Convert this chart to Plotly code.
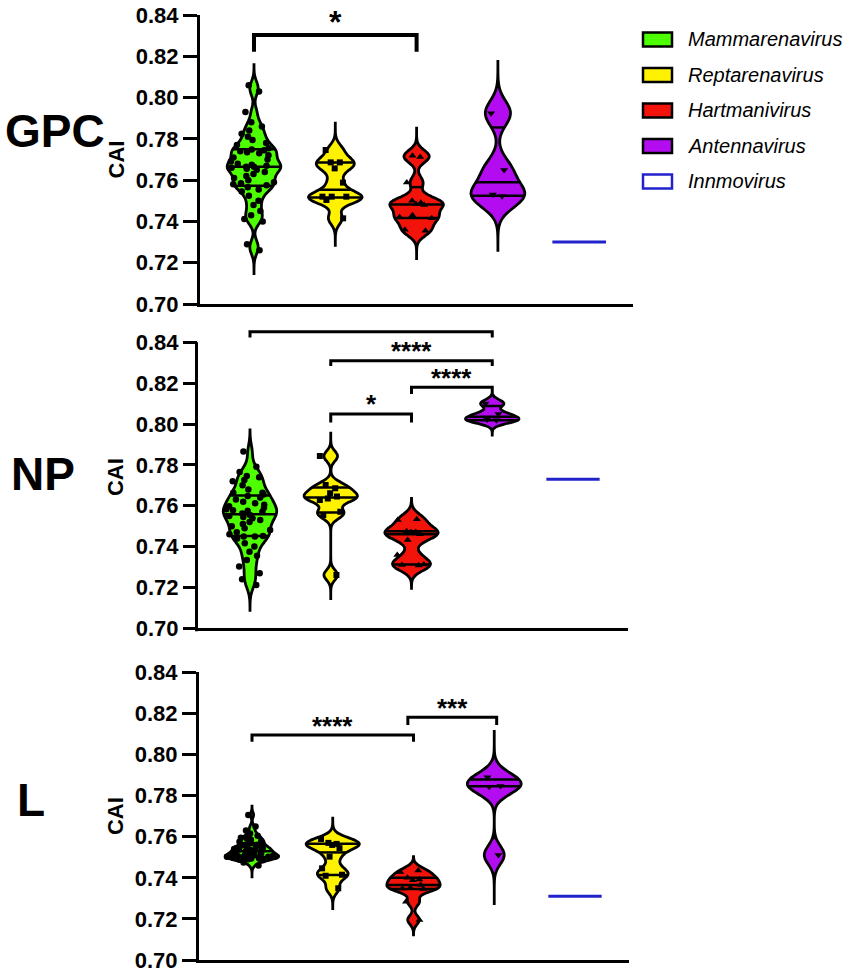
import numpy as np
import plotly.graph_objects as go

# ---------------- data ----------------
GENERA = ["Mammarenavirus", "Reptarenavirus", "Hartmanivirus", "Antennavirus", "Innmovirus"]
POSITIONS = [1, 2, 3, 4, 5]
PANELS = ["GPC", "NP", "L"]
Y_TICKS = [0.70, 0.72, 0.74, 0.76, 0.78, 0.80, 0.82, 0.84]
Y_TICK_LABELS = ["0.70", "0.72", "0.74", "0.76", "0.78", "0.80", "0.82", "0.84"]

GPC_MAMMARENAVIRUS = [0.8060, 0.8030, 0.7930, 0.7880, 0.7860, 0.7840, 0.7825, 0.7810, 0.7795, 0.7780,
                      0.7770, 0.7755, 0.7748, 0.7745, 0.7740, 0.7735, 0.7730, 0.7720, 0.7710, 0.7700,
                      0.7690, 0.7680, 0.7675, 0.7670, 0.7665, 0.7665, 0.7660, 0.7655, 0.7650, 0.7640,
                      0.7630, 0.7620, 0.7610, 0.7600, 0.7590, 0.7585, 0.7580, 0.7575, 0.7565, 0.7555,
                      0.7545, 0.7525, 0.7500, 0.7480, 0.7450, 0.7430, 0.7412, 0.7400, 0.7290, 0.7260]
GPC_REPTARENAVIRUS = [0.7746, 0.7686, 0.7686, 0.7657, 0.7588, 0.7520, 0.7520, 0.7520, 0.7504, 0.7415]
GPC_HARTMANIVIRUS = [0.7718, 0.7712, 0.7588, 0.7500, 0.7490, 0.7485, 0.7480, 0.7430, 0.7420, 0.7415,
                     0.7360, 0.7355]
GPC_ANTENNAVIRUS = [0.7924, 0.7649, 0.7530, 0.7522]
GPC_INNMOVIRUS = [0.7300]

NP_MAMMARENAVIRUS = [0.7865, 0.7791, 0.7765, 0.7746, 0.7740, 0.7726, 0.7720, 0.7700, 0.7680, 0.7664,
                     0.7664, 0.7655, 0.7648, 0.7640, 0.7630, 0.7620, 0.7612, 0.7605, 0.7598, 0.7590,
                     0.7583, 0.7578, 0.7575, 0.7570, 0.7562, 0.7555, 0.7550, 0.7545, 0.7539, 0.7530,
                     0.7520, 0.7510, 0.7500, 0.7490, 0.7481, 0.7470, 0.7460, 0.7452, 0.7449, 0.7449,
                     0.7440, 0.7416, 0.7400, 0.7375, 0.7355, 0.7334, 0.7302, 0.7269, 0.7240, 0.7212]
NP_REPTARENAVIRUS = [0.7843, 0.7701, 0.7685, 0.7661, 0.7645, 0.7636, 0.7628, 0.7571, 0.7555, 0.7261]
NP_HARTMANIVIRUS = [0.7534, 0.7530, 0.7475, 0.7472, 0.7470, 0.7460, 0.7432, 0.7359, 0.7312, 0.7310, 0.7308]
NP_ANTENNAVIRUS = [0.8101, 0.8049, 0.8022, 0.8018]
NP_INNMOVIRUS = [0.7730]

L_MAMMARENAVIRUS = [0.7706, 0.7650, 0.7630, 0.7615, 0.7605, 0.7600, 0.7595, 0.7590, 0.7585, 0.7580,
                    0.7575, 0.7572, 0.7568, 0.7562, 0.7558, 0.7555, 0.7550, 0.7548, 0.7545, 0.7542,
                    0.7540, 0.7538, 0.7535, 0.7532, 0.7530, 0.7528, 0.7525, 0.7522, 0.7520, 0.7518,
                    0.7515, 0.7512, 0.7510, 0.7508, 0.7506, 0.7505, 0.7503, 0.7502, 0.7500, 0.7500,
                    0.7498, 0.7497, 0.7495, 0.7494, 0.7492, 0.7490, 0.7488, 0.7485, 0.7475, 0.7460]
L_REPTARENAVIRUS = [0.7589, 0.7570, 0.7565, 0.7560, 0.7544, 0.7503, 0.7446, 0.7415, 0.7410, 0.7349]
L_HARTMANIVIRUS = [0.7435, 0.7428, 0.7400, 0.7392, 0.7388, 0.7365, 0.7352, 0.7348, 0.7345, 0.7284, 0.7195]
L_ANTENNAVIRUS = [0.7889, 0.7847, 0.7843, 0.7511]
L_INNMOVIRUS = [0.7310]

PANEL_DATA = [
    [GPC_MAMMARENAVIRUS, GPC_REPTARENAVIRUS, GPC_HARTMANIVIRUS, GPC_ANTENNAVIRUS, GPC_INNMOVIRUS],
    [NP_MAMMARENAVIRUS, NP_REPTARENAVIRUS, NP_HARTMANIVIRUS, NP_ANTENNAVIRUS, NP_INNMOVIRUS],
    [L_MAMMARENAVIRUS, L_REPTARENAVIRUS, L_HARTMANIVIRUS, L_ANTENNAVIRUS, L_INNMOVIRUS],
]

# violin smoothing (kernel bandwidth) and drawn extent (tails)
GPC_BANDWIDTH = [0.0029, 0.0030, 0.0030, 0.0060]
NP_BANDWIDTH = [0.0036, 0.0025, 0.0030, 0.0018]
L_BANDWIDTH = [0.0013, 0.0025, 0.0022, 0.0045]
GPC_SPAN = [[0.7140, 0.8166], [0.7277, 0.7883], [0.7213, 0.7859], [0.7253, 0.8182]]
NP_SPAN = [[0.7081, 0.7971], [0.7139, 0.7962], [0.7196, 0.7636], [0.7946, 0.8142]]
L_SPAN = [[0.7398, 0.7755], [0.7243, 0.7697], [0.7122, 0.7503], [0.7268, 0.8119]]
BANDWIDTHS = [GPC_BANDWIDTH, NP_BANDWIDTH, L_BANDWIDTH]
SPANS = [GPC_SPAN, NP_SPAN, L_SPAN]

# significance brackets: (left group pos, right group pos, bar y, tick end y, label, label y)
GPC_BRACKETS = [(1, 3, 0.8303, 0.8222, "*", 0.8400)]
NP_BRACKETS = [(1, 4, 0.8452, 0.8424, "", 0.0),
               (2, 4, 0.8310, 0.8284, "****", 0.8387),
               (3, 4, 0.8180, 0.8147, "****", 0.8256),
               (2, 3, 0.8049, 0.8007, "*", 0.8126)]
L_BRACKETS = [(1, 3, 0.8095, 0.8062, "****", 0.8168),
              (2.93, 4.03, 0.8181, 0.8144, "***", 0.8257)]
BRACKETS = [GPC_BRACKETS, NP_BRACKETS, L_BRACKETS]

# ---------------- style / layout constants ----------------
W, H = 851, 975
PAGE_OFFSET = 0.0
FONT = "Liberation Sans, Arial, sans-serif"
COLORS = ["#4dff00", "#fff200", "#f2140a", "#b30cf0", "#2222cc"]
SYMBOLS = ["circle", "square", "triangle-up", "triangle-down"]
MARKER_SIZES = [6.5, 6, 7, 7]
JITTERS = [1.0, 0.6, 0.75, 0.3]
VIOLIN_WIDTH = 0.66

TOP_PX = [15.0, 342.3, 672.3]       # pixel row of 0.84
BOTTOM_PX = [304.0, 628.3, 960.0]   # pixel row of 0.70
Y_RANGES = [[0.70, 0.84], [0.70, 0.848], [0.70, 0.84]]
LEFT_PX = [200.0, 198.0, 199.0]
RIGHT_PX = [633.0, 628.0, 629.0]
FIRST_PX = [254.0, 250.0, 252.0]
STEP_PX = [81.3, 80.75, 80.75]
LABEL_POS = [(55, 131), (43, 474), (31, 800)]


def px_x(x):
    return (x - PAGE_OFFSET) / W


def px_y(y):
    return 1 - (y - PAGE_OFFSET) / H


def halfwidths(vals, bw, span, half, qs):
    """Half width of plotly's violin outline (scalemode width) at values qs."""
    v = np.asarray(vals, dtype=float)
    n = int(np.ceil((span[1] - span[0]) / (bw / 3.0)))
    step = (span[1] - span[0]) / n
    grid = span[0] + step * np.arange(n + 1)

    def kde(t):
        t = np.atleast_1d(t)
        return np.exp(-0.5 * ((t[None, :] - v[:, None]) / bw) ** 2).sum(0) / (len(v) * bw * np.sqrt(2 * np.pi))

    mx = kde(grid).max()
    return half * kde(qs) / mx


fig = go.Figure()
layout_axes = {}
shapes = []
annotations = []

for pi, panel in enumerate(PANELS):
    s = "" if pi == 0 else str(pi + 1)
    xr, yr = "x" + s, "y" + s
    groups = PANEL_DATA[pi]
    for gi in range(4):
        vals = groups[gi]
        bw = BANDWIDTHS[pi][gi]
        span = SPANS[pi][gi]
        pos = POSITIONS[gi]
        fig.add_trace(go.Violin(
            x0=pos, y=vals, name=GENERA[gi], width=VIOLIN_WIDTH, bandwidth=bw,
            spanmode="manual", span=span, points="all", pointpos=0, jitter=JITTERS[gi],
            fillcolor=COLORS[gi], line=dict(color="black", width=2.8),
            marker=dict(symbol=SYMBOLS[gi], size=MARKER_SIZES[gi], color="black"),
            box_visible=False, meanline_visible=False, opacity=1,
            xaxis=xr, yaxis=yr, showlegend=False))
        qs = np.quantile(vals, [0.25, 0.5, 0.75], method="weibull")
        hws = halfwidths(vals, bw, span, VIOLIN_WIDTH / 2, qs)
        xs, ys = [], []
        for q, hw in zip(qs, hws):
            xs += [pos - hw, pos + hw, None]
            ys += [q, q, None]
        fig.add_trace(go.Scatter(x=xs, y=ys, mode="lines", line=dict(color="black", width=2.5),
                                 xaxis=xr, yaxis=yr, showlegend=False, hoverinfo="skip"))
    # Innmovirus: a single genome -> collapsed box (drawn as a line)
    fig.add_trace(go.Box(x0=POSITIONS[4], y=groups[4], name=GENERA[4], width=VIOLIN_WIDTH,
                         fillcolor="white", line=dict(color=COLORS[4], width=3),
                         boxpoints=False, xaxis=xr, yaxis=yr, showlegend=False))

    # axes
    bot, top = BOTTOM_PX[pi], TOP_PX[pi]
    yrng = Y_RANGES[pi]
    top_dom_px = bot - (yrng[1] - yrng[0]) / 0.14 * (bot - top)
    xrng = [1 - (FIRST_PX[pi] - LEFT_PX[pi]) / STEP_PX[pi],
            1 + (RIGHT_PX[pi] - FIRST_PX[pi]) / STEP_PX[pi]]
    layout_axes["xaxis" + s] = dict(
        domain=[px_x(LEFT_PX[pi]), px_x(RIGHT_PX[pi])], range=xrng, anchor=yr,
        showticklabels=False, ticks="", showgrid=False, zeroline=False, automargin=False,
        showline=True, linecolor="black", linewidth=3, fixedrange=True)
    layout_axes["yaxis" + s] = dict(
        domain=[px_y(bot), px_y(top_dom_px)], range=yrng, anchor=xr,
        tickmode="array", tickvals=Y_TICKS, ticktext=Y_TICK_LABELS,
        ticks="outside", ticklen=14, tickwidth=3, tickcolor="black",
        showline=(pi != 1), linecolor="black", linewidth=3, automargin=False,
        showgrid=False, zeroline=False, fixedrange=True,
        tickfont=dict(family=FONT, size=22, color="black", weight="bold"),
        title=dict(text="CAI", font=dict(family=FONT, size=22, color="black", weight="bold"),
                   standoff=6))
    if pi == 1:
        # y-axis line only up to 0.84 (brackets sit above it)
        lx = px_x(LEFT_PX[pi] - 1.5)
        shapes.append(dict(type="line", xref="paper", yref="paper", x0=lx, x1=lx,
                           y0=px_y(bot + 3), y1=px_y(top), line=dict(color="black", width=3)))

    # significance brackets
    for (xa, xb, ybar, yend, label, ylab) in BRACKETS[pi]:
        lw = 4 if pi == 0 else 3
        shapes.append(dict(type="path", xref=xr, yref=yr,
                           path=f"M {xa},{yend} L {xa},{ybar} L {xb},{ybar} L {xb},{yend}",
                           line=dict(color="black", width=lw)))
        if label:
            fs = 32 if pi == 0 else 26
            annotations.append(dict(x=(xa + xb) / 2, y=ylab, xref=xr, yref=yr, text=label,
                                    showarrow=False, yanchor="middle", yshift=-0.23 * fs,
                                    font=dict(family=FONT, size=fs, color="black", weight="bold")))

    # panel label
    lxp, lyp = LABEL_POS[pi]
    annotations.append(dict(x=px_x(lxp), y=px_y(lyp), xref="paper", yref="paper", text=panel,
                            showarrow=False, xanchor="center", yanchor="middle",
                            font=dict(family=FONT, size=46, color="black", weight="bold")))

# truncated label of the top NP bracket (cut at the panel edge in the source)
annotations.append(dict(x=2.5, y=0.8509, xref="x2", yref="y2", text="- - - -", showarrow=False,
                        font=dict(family=FONT, size=9, color="#aaaaaa")))

# legend drawn as boxes + italic labels
for gi, g in enumerate(GENERA):
    cy = 39.5 + 35.5 * gi
    if gi < 4:
        fill, edge = COLORS[gi], "black"
    else:
        fill, edge = "white", COLORS[4]
    shapes.append(dict(type="rect", xref="paper", yref="paper",
                       x0=px_x(643), x1=px_x(672), y0=px_y(cy + 7), y1=px_y(cy - 7),
                       fillcolor=fill, line=dict(color=edge, width=2.5)))
    annotations.append(dict(x=px_x(686), y=px_y(cy), xref="paper", yref="paper", text=g,
                            showarrow=False, xanchor="left", yanchor="middle",
                            font=dict(family=FONT, size=20, color="black", style="italic")))

fig.update_layout(
    width=W, height=H, margin=dict(l=0, r=0, t=0, b=0, autoexpand=False),
    paper_bgcolor="white", plot_bgcolor="white",
    showlegend=False, shapes=shapes, annotations=annotations,
    font=dict(family=FONT, color="black"),
    violinmode="overlay", boxmode="overlay",
    **layout_axes)

# the figure fills the whole page: drop the browser's default page margin
fig.write_html("out.html", config={"displayModeBar": False},
               post_script="document.body.style.margin = '0px';")
